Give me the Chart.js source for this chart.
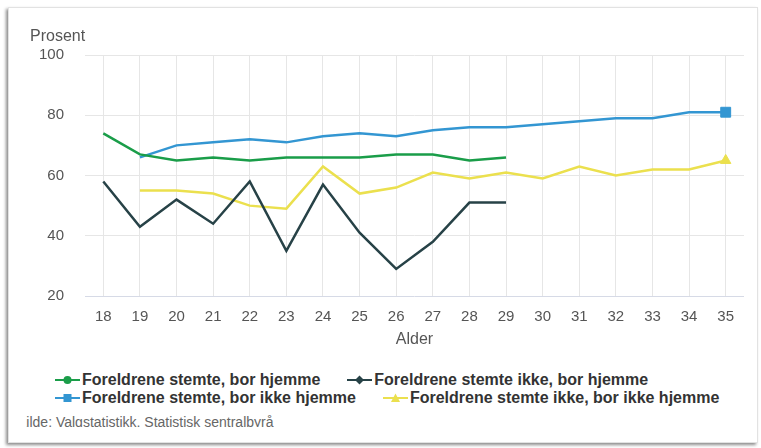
<!DOCTYPE html>
<html>
<head>
<meta charset="utf-8">
<script src="https://cdn.jsdelivr.net/npm/chart.js@4"></script>
<style>
  html, body { margin: 0; padding: 0; background: #fff; }
  body { width: 761px; height: 448px; position: relative; overflow: hidden; font-family: "Liberation Sans", Arial, sans-serif; }
  #card { position: absolute; left: 8px; top: 7px; width: 748px; height: 434px; background: #fff;
          border: 1px solid #e2e2e2; box-shadow: -2px 2px 3px rgba(0,0,0,0.45); }
  #wrap { position: absolute; left: 0; top: 0; width: 761px; height: 360px; }
  #legend { position: absolute; left: 55px; top: 371px; width: 680px; display: flex; flex-wrap: wrap; column-gap: 27px; }
  .item { display: flex; align-items: center; height: 18px; font: bold 16px "Liberation Sans", Arial, sans-serif; color: #333; white-space: nowrap; }
  .item svg { margin-right: 2px; }
  #kilde { position: absolute; left: 26px; top: 415px; width: 400px; height: 12px; overflow: hidden; }
  #kilde span { display: block; margin-left: -9px; font: 14px/14px "Liberation Sans", Arial, sans-serif; color: #666; white-space: nowrap; }
</style>
</head>
<body>
<div id="card"></div>
<div id="wrap"><canvas id="chart" width="761" height="360"></canvas></div>
<div id="legend"></div>
<div id="kilde"><span>Kilde: Valgstatistikk, Statistisk sentralbyrå</span></div>
<script>
// alder
const ages = ['18','19','20','21','22','23','24','25','26','27','28','29','30','31','32','33','34','35'];

// prosent som stemte
const stemteBorHjemme = [74, 67, 65, 66, 65, 66, 66, 66, 67, 67, 65, 66];
const ikkeStemteBorHjemme = [58, 43, 52, 44, 58, 35, 57, 41, 29, 38, 51, 51];
const stemteBorIkkeHjemme = [null, 66, 70, 71, 72, 71, 73, 74, 73, 75, 76, 76, 77, 78, 79, 79, 81, 81];
const ikkeStemteBorIkkeHjemme = [null, 55, 55, 54, 50, 49, 63, 54, 56, 61, 59, 61, 59, 63, 60, 62, 62, 65];

const seriesNames = [
    'Foreldrene stemte, bor hjemme',
    'Foreldrene stemte ikke, bor hjemme',
    'Foreldrene stemte, bor ikke hjemme',
    'Foreldrene stemte ikke, bor ikke hjemme'
];
const seriesColors = ['#1a9d49', '#274247', '#3396d2', '#ebe04e'];
const seriesMarkers = ['circle', 'rectRot', 'rect', 'triangle'];
const yTicks = [20, 40, 60, 80, 100];

// bare siste punkt har markør
function lastOnly(arr, r) {
    return arr.map((v, i) => i === arr.length - 1 ? r : 0);
}

const seriesData = [stemteBorHjemme, ikkeStemteBorHjemme, stemteBorIkkeHjemme, ikkeStemteBorIkkeHjemme];
const showMarker = [false, false, true, true];
const markerSize = [5, 5, 7, 6];

const datasets = seriesData.map((d, i) => ({
    label: seriesNames[i],
    data: d,
    borderColor: seriesColors[i],
    backgroundColor: seriesColors[i],
    pointBackgroundColor: seriesColors[i],
    pointBorderColor: seriesColors[i],
    pointBorderWidth: 1,
    pointStyle: seriesMarkers[i],
    pointRadius: showMarker[i] ? lastOnly(d, markerSize[i]) : 0,
    borderWidth: 2.5,
    tension: 0,
    spanGaps: false
}));

const prosentTitle = {
    id: 'prosentTitle',
    afterDraw(chart) {
        const ctx = chart.ctx;
        ctx.save();
        ctx.font = '16px "Liberation Sans", Arial, sans-serif';
        ctx.fillStyle = '#555';
        ctx.textBaseline = 'middle';
        ctx.textAlign = 'left';
        ctx.fillText('Prosent', 30, 37);
        ctx.restore();
    }
};

const config = {
    type: 'line',
    data: { labels: ages, datasets: datasets },
    options: {
        responsive: false,
        animation: false,
        events: [],
        layout: { padding: { left: 0, right: 17, top: 55, bottom: 0 } },
        plugins: {
            legend: { display: false },
            tooltip: { enabled: false }
        },
        scales: {
            x: {
                offset: true,
                grid: { color: '#e6e6e6', offset: false, drawTicks: false },
                border: { display: false },
                ticks: { color: '#555', font: { size: 15, family: '"Liberation Sans", Arial, sans-serif' }, padding: 12, maxRotation: 0, autoSkip: false },
                title: { display: true, text: 'Alder', color: '#555', font: { size: 16, family: '"Liberation Sans", Arial, sans-serif' }, padding: { top: 4, bottom: 11 } },
                afterFit(scale) { scale.height = 64; }
            },
            y: {
                min: 20,
                max: 100,
                afterBuildTicks(scale) { scale.ticks = yTicks.map(v => ({ value: v })); },
                grid: {
                    color: ctx => ctx.tick && ctx.tick.value === 20 ? '#d6dae6' : '#e6e6e6',
                    drawTicks: false
                },
                border: { display: false },
                ticks: { color: '#555', font: { size: 15, family: '"Liberation Sans", Arial, sans-serif' }, padding: 21 },
                afterFit(scale) { scale.width = 85; }
            }
        }
    },
    plugins: [prosentTitle]
};

// legende
function markerSvg(color, shape) {
    let m = '';
    if (shape === 'circle') m = `<circle cx="12.5" cy="9" r="4" fill="${color}"/>`;
    else if (shape === 'rectRot') m = `<polygon points="12.5,4.5 17,9 12.5,13.5 8,9" fill="${color}"/>`;
    else if (shape === 'rect') m = `<rect x="8.5" y="5" width="8" height="8" fill="${color}"/>`;
    else m = `<polygon points="12.5,4.5 17,13 8,13" fill="${color}"/>`;
    return `<svg width="25" height="18"><line x1="0" y1="9" x2="25" y2="9" stroke="${color}" stroke-width="2"/>${m}</svg>`;
}

window.addEventListener('load', () => {
    const legend = document.getElementById('legend');
    seriesNames.forEach((name, i) => {
        const el = document.createElement('div');
        el.className = 'item';
        el.innerHTML = markerSvg(seriesColors[i], seriesMarkers[i]) + '<span>' + name + '</span>';
        legend.appendChild(el);
    });
    const ctx = document.getElementById('chart').getContext('2d');
    new Chart(ctx, config);
});
</script>
</body>
</html>
